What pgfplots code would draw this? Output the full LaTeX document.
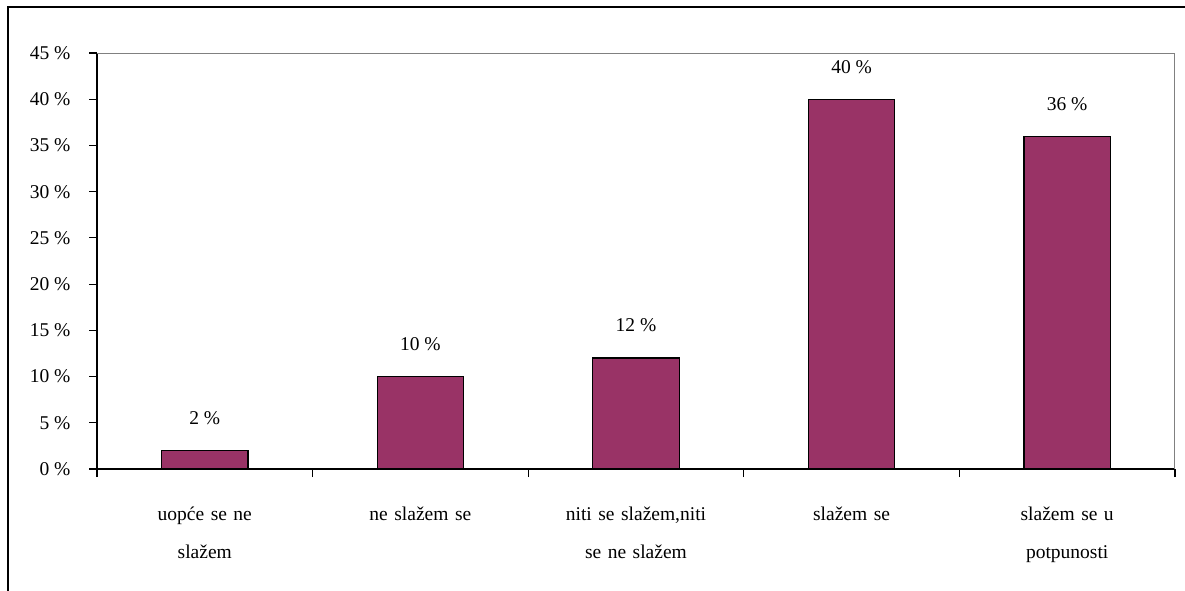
\documentclass[border=0pt]{standalone}
\usepackage{pgfplots}
\pgfplotsset{compat=1.18}
\usepackage{fontspec}
\setmainfont{Liberation Serif}
\definecolor{barplum}{HTML}{993366}

\begin{document}
\begin{tikzpicture}[x=1pt,y=1pt]
\useasboundingbox (0,0) rectangle (1185,590);
% outer chart frame (only left and top edges are visible)
\draw[line width=2pt] (8,-5) -- (8,583) -- (1190,583);
\begin{axis}[
    at={(97pt,121pt)}, anchor=south west,
    scale only axis,
    width=1078pt, height=416pt,
    font=\fontsize{19.5}{38}\selectfont,
    /pgf/number format/assume math mode=true,
    xmin=-0.5, xmax=4.5,
    ymin=0, ymax=45,
    axis x line*=bottom, axis y line*=left,
    axis line style={line width=1.5pt},
    tick align=outside,
    ytick={0,5,...,45},
    yticklabels={0 \%,5 \%,10 \%,15 \%,20 \%,25 \%,30 \%,35 \%,40 \%,45 \%},
    yticklabel style={xshift=-15pt},
    xtick={0,1,2,3,4},
    major x tick style={draw=none},
    minor xtick={-0.5,0.5,1.5,2.5,3.5,4.5},
    major tick length=8pt, minor tick length=8pt,
    tick style={line width=1.2pt, black},
    xticklabels={{uopće se ne\\slažem}, {ne slažem se}, {niti se slažem,niti\\se ne slažem}, {slažem se}, {slažem se u\\potpunosti}},
    xticklabel style={anchor=north, yshift=-26pt, text width=220pt, align=center},
    ybar, bar width=0.4,
    nodes near coords={\pgfmathprintnumber{\pgfplotspointmeta}~\%},
    every node near coord/.append style={anchor=south, yshift=22pt, black},
  ]
  \draw[gray, line width=1pt] (rel axis cs:0,1) -- (rel axis cs:1,1) -- (rel axis cs:1,0);
  \addplot[fill=barplum, draw=black, line width=1.2pt] coordinates {
    (0,2) (1,10) (2,12) (3,40) (4,36)
  };
\end{axis}
\end{tikzpicture}
\end{document}
